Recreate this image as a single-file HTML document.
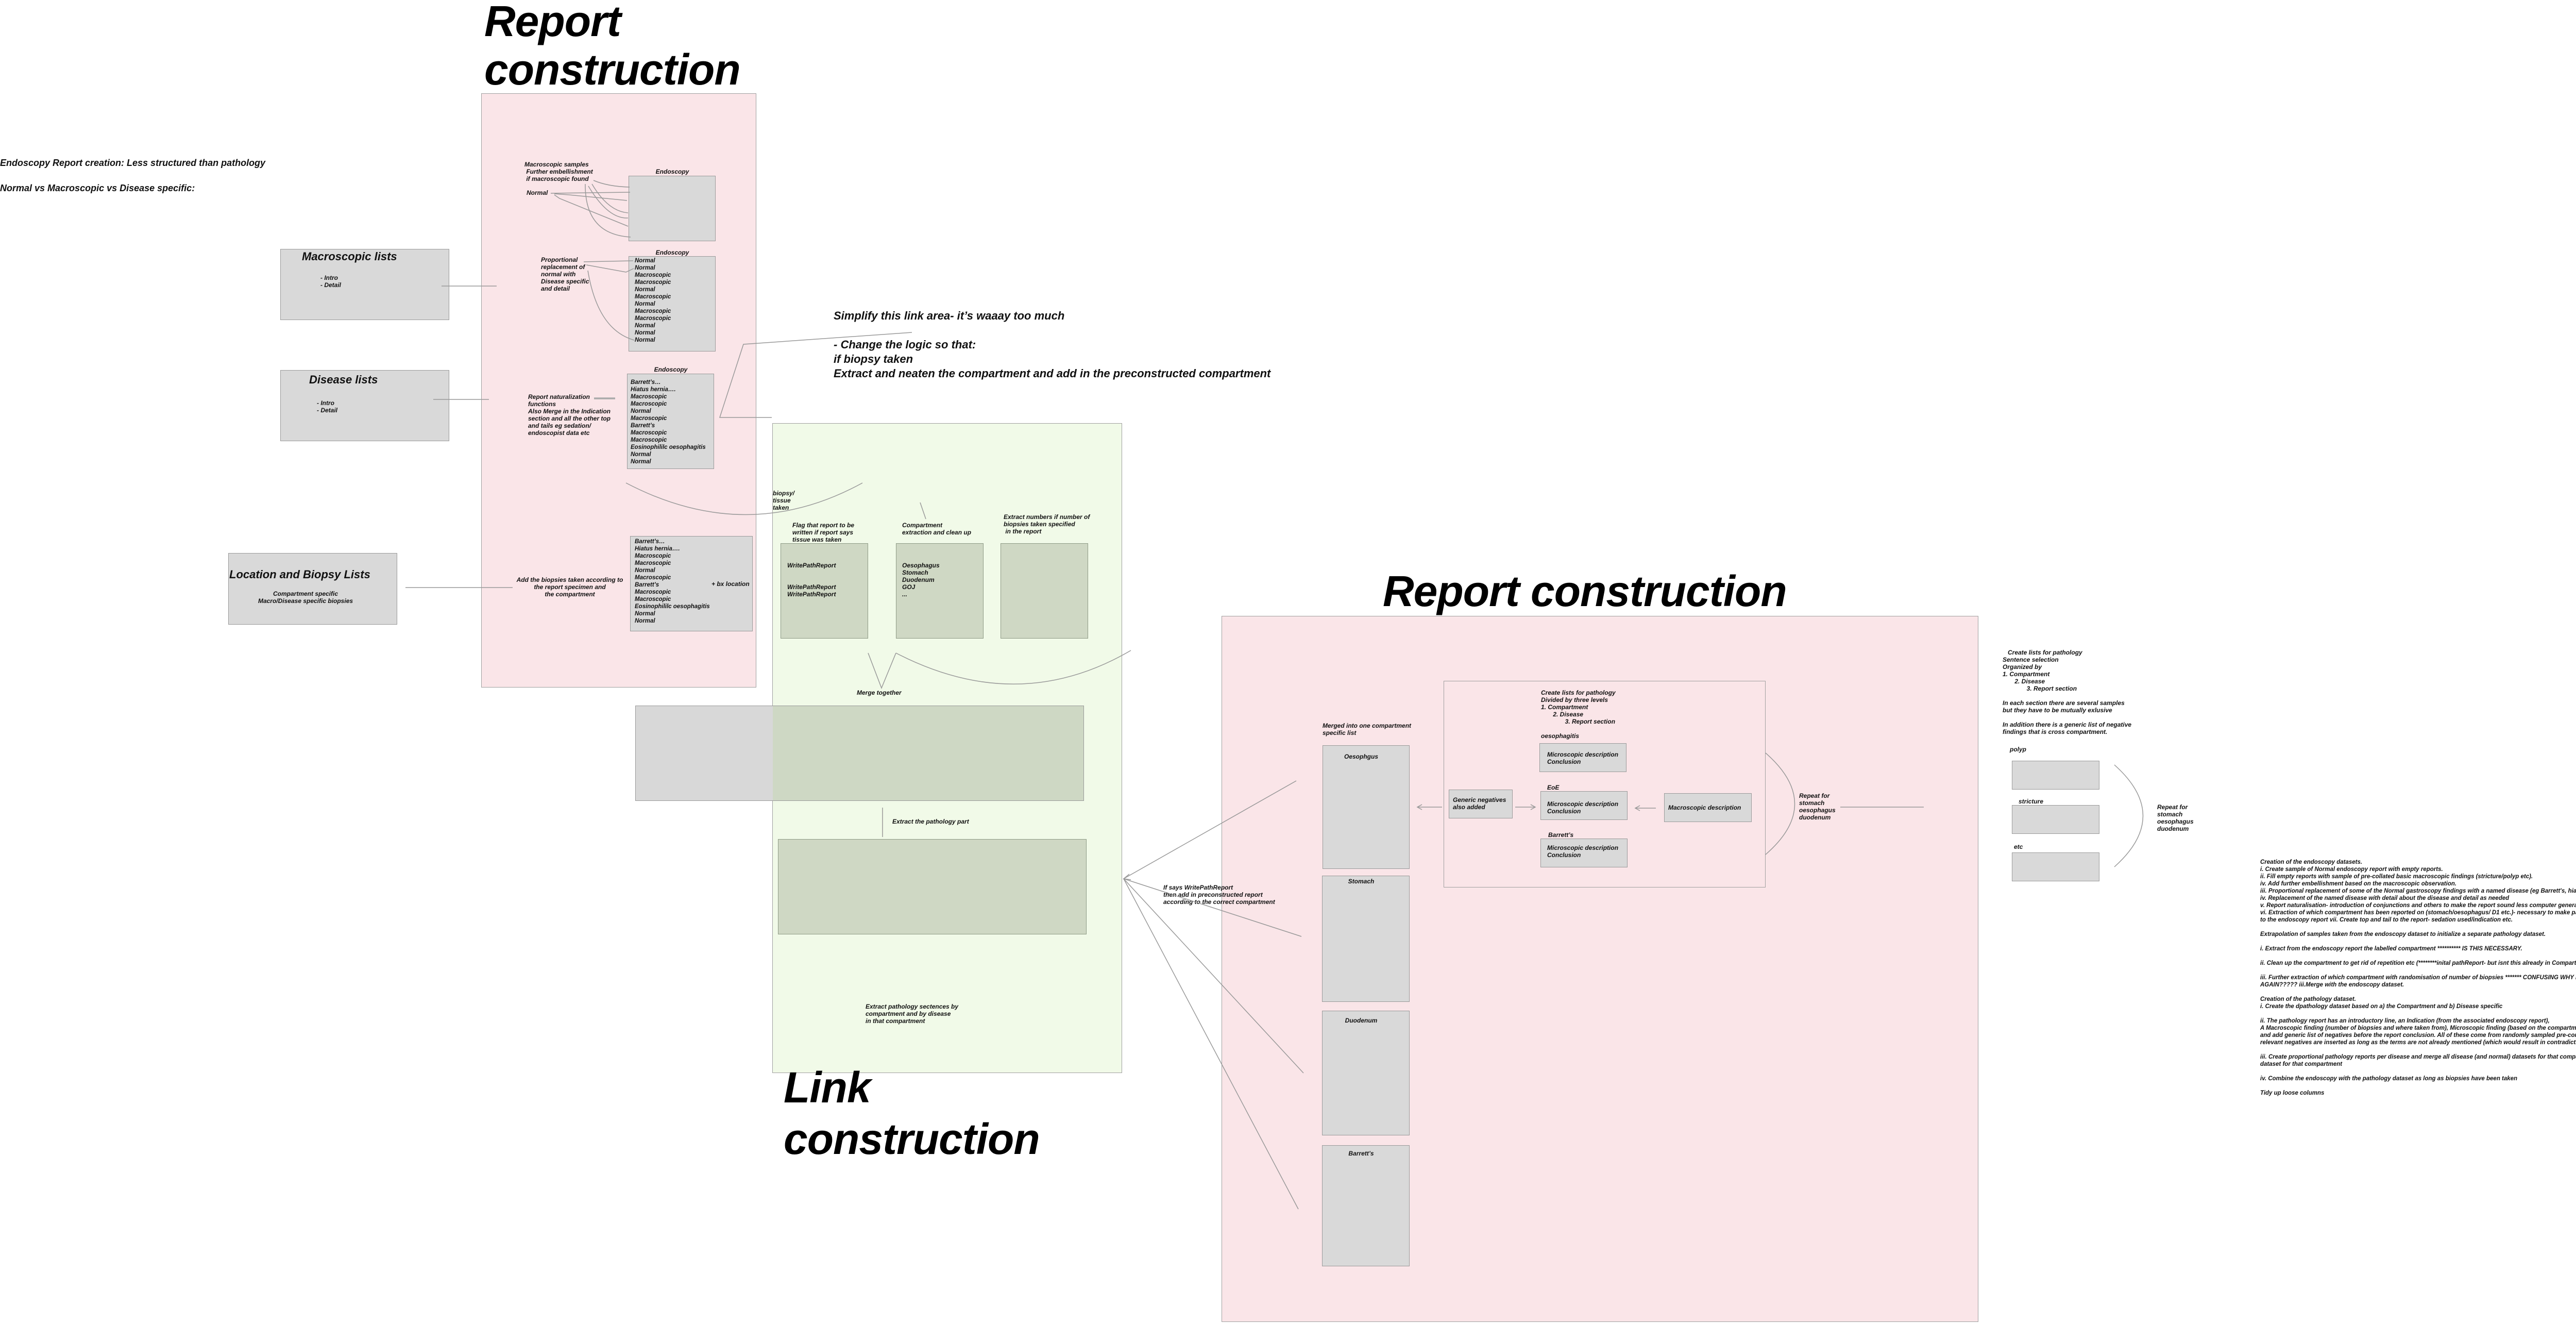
<!DOCTYPE html>
<html><head><meta charset="utf-8">
<style>
html,body{margin:0;padding:0;background:#fff;}
#c{position:relative;width:5125px;height:2567px;overflow:hidden;background:#fff;}
.t{position:absolute;font-family:"Liberation Sans",Arial,sans-serif;font-style:italic;font-weight:bold;font-size:12px;line-height:14px;white-space:pre;color:#111;}
.s{font-size:11.5px;}
.big{font-size:84px;line-height:94px;color:#000;letter-spacing:-1px;}
.h{font-size:22px;line-height:26px;}
.b{position:absolute;box-sizing:border-box;}
.g{background:#d9d9d9;border:1.5px solid #9a9a9a;}
.dg{background:#cfd8c4;border:1.5px solid #8e9a86;}
.c{text-align:center;}
</style></head><body><div id="c">

<!-- containers -->
<div class="b" style="left:934px;top:181px;width:534px;height:1153px;background:#fae5e8;border:1.5px solid #a0a0a0;"></div>
<div class="b" style="left:1499px;top:821px;width:679px;height:1261px;background:#f1fae8;border:1.5px solid #a0a0a0;"></div>
<div class="b" style="left:2371px;top:1195px;width:1469px;height:1370px;background:#fae5e8;border:1.5px solid #a0a0a0;"></div>
<div class="b" style="left:2802px;top:1321px;width:625px;height:401px;border:1.5px solid #a0a0a0;"></div>

<!-- titles -->
<div class="t big" style="left:940px;top:-6px;">Report
construction</div>
<div class="t big" style="left:2684px;top:1100px;">Report construction</div>
<div class="t big" style="left:1521px;top:2060px;line-height:100px;">Link
construction</div>

<!-- left notes -->
<div class="t" style="left:0;top:304px;font-size:18px;line-height:24px;">Endoscopy Report creation: Less structured than pathology</div>
<div class="t" style="left:0;top:353px;font-size:18px;line-height:24px;">Normal vs Macroscopic vs Disease specific:</div>

<div class="b g" style="left:544px;top:483px;width:328px;height:138px;"></div>
<div class="t h" style="left:586px;top:485px;">Macroscopic lists</div>
<div class="t" style="left:622px;top:532px;">- Intro
- Detail</div>

<div class="b g" style="left:544px;top:718px;width:328px;height:138px;"></div>
<div class="t h" style="left:600px;top:724px;">Disease lists</div>
<div class="t" style="left:615px;top:775px;">- Intro
- Detail</div>

<div class="b g" style="left:443px;top:1073px;width:328px;height:139px;"></div>
<div class="t h" style="left:445px;top:1102px;">Location and Biopsy Lists</div>
<div class="t c" style="left:443px;top:1145px;width:300px;">Compartment specific
Macro/Disease specific biopsies</div>

<!-- pink 1 contents -->
<div class="t" style="left:1018px;top:312px;">Macroscopic samples
 Further embellishment
 if macroscopic found</div>
<div class="t" style="left:1022px;top:367px;">Normal</div>
<div class="t c" style="left:1220px;top:326px;width:170px;">Endoscopy</div>
<div class="b g" style="left:1220px;top:341px;width:169px;height:127px;"></div>

<div class="t" style="left:1050px;top:497px;">Proportional
replacement of
normal with
Disease specific
and detail</div>
<div class="t c" style="left:1220px;top:483px;width:170px;">Endoscopy</div>
<div class="b g" style="left:1220px;top:497px;width:169px;height:185px;"></div>
<div class="t s" style="left:1232px;top:499px;">Normal
Normal
Macroscopic
Macroscopic
Normal
Macroscopic
Normal
Macroscopic
Macroscopic
Normal
Normal
Normal</div>

<div class="t" style="left:1025px;top:763px;">Report naturalization
functions
Also Merge in the Indication
section and all the other top
and tails eg sedation/
endoscopist data etc</div>
<div class="t c" style="left:1217px;top:710px;width:170px;">Endoscopy</div>
<div class="b g" style="left:1217px;top:725px;width:169px;height:185px;"></div>
<div class="t s" style="left:1224px;top:735px;">Barrett’s…
Hiatus hernia….
Macroscopic
Macroscopic
Normal
Macroscopic
Barrett’s
Macroscopic
Macroscopic
Eosinophililc oesophagitis
Normal
Normal</div>

<div class="t c" style="left:1000px;top:1118px;width:212px;">Add the biopsies taken according to
the report specimen and
the compartment</div>
<div class="b g" style="left:1223px;top:1040px;width:238px;height:185px;"></div>
<div class="t s" style="left:1232px;top:1044px;">Barrett’s…
Hiatus hernia….
Macroscopic
Macroscopic
Normal
Macroscopic
Barrett’s
Macroscopic
Macroscopic
Eosinophililc oesophagitis
Normal
Normal</div>
<div class="t" style="left:1381px;top:1126px;">+ bx location</div>

<!-- simplify note -->
<div class="t" style="left:1618px;top:599px;font-size:22px;line-height:28px;">Simplify this link area- it’s waaay too much

- Change the logic so that:
if biopsy taken
Extract and neaten the compartment and add in the preconstructed compartment</div>

<!-- green contents -->
<div class="t" style="left:1500px;top:950px;">biopsy/
tissue
taken</div>
<div class="t" style="left:1538px;top:1012px;">Flag that report to be
written if report says
tissue was taken</div>
<div class="t" style="left:1751px;top:1012px;">Compartment
extraction and clean up</div>
<div class="t" style="left:1948px;top:996px;">Extract numbers if number of
biopsies taken specified
 in the report</div>
<div class="b dg" style="left:1515px;top:1054px;width:170px;height:185px;"></div>
<div class="b dg" style="left:1739px;top:1054px;width:170px;height:185px;"></div>
<div class="b dg" style="left:1942px;top:1054px;width:170px;height:185px;"></div>
<div class="t" style="left:1528px;top:1090px;">WritePathReport


WritePathReport
WritePathReport</div>
<div class="t" style="left:1751px;top:1090px;">Oesophagus
Stomach
Duodenum
GOJ
...</div>
<div class="t" style="left:1663px;top:1337px;">Merge together</div>

<div class="b" style="left:1233px;top:1369px;width:267px;height:185px;background:#d8d8d8;"></div>
<div class="b" style="left:1500px;top:1369px;width:604px;height:185px;background:#ced8c4;"></div>
<div class="b" style="left:1233px;top:1369px;width:871px;height:185px;border:1.5px solid #999;"></div>
<div class="t" style="left:1732px;top:1587px;">Extract the pathology part</div>
<div class="b dg" style="left:1510px;top:1628px;width:599px;height:185px;"></div>
<div class="t" style="left:1680px;top:1946px;">Extract pathology sectences by
compartment and by disease
in that compartment</div>

<!-- pink 2 contents -->
<div class="t" style="left:2258px;top:1715px;">If says WritePathReport
then add in preconstructed report
according to the correct compartment</div>
<div class="t" style="left:2567px;top:1401px;">Merged into one compartment
specific list</div>
<div class="b g" style="left:2567px;top:1446px;width:169px;height:240px;"></div>
<div class="t c" style="left:2567px;top:1461px;width:150px;">Oesophgus</div>
<div class="b g" style="left:2566px;top:1699px;width:170px;height:245px;"></div>
<div class="t c" style="left:2566px;top:1703px;width:152px;">Stomach</div>
<div class="b g" style="left:2566px;top:1961px;width:170px;height:242px;"></div>
<div class="t c" style="left:2566px;top:1973px;width:152px;">Duodenum</div>
<div class="b g" style="left:2566px;top:2222px;width:170px;height:235px;"></div>
<div class="t c" style="left:2566px;top:2231px;width:152px;">Barrett’s</div>

<div class="t" style="left:2991px;top:1337px;">Create lists for pathology
Divided by three levels
1. Compartment
       2. Disease
              3. Report section</div>
<div class="t" style="left:2991px;top:1421px;">oesophagitis</div>
<div class="b g" style="left:2988px;top:1442px;width:169px;height:56px;"></div>
<div class="t" style="left:3003px;top:1457px;">Microscopic description
Conclusion</div>
<div class="t" style="left:3003px;top:1521px;">EoE</div>
<div class="b g" style="left:2990px;top:1535px;width:169px;height:56px;"></div>
<div class="t" style="left:3003px;top:1553px;">Microscopic description
Conclusion</div>
<div class="t" style="left:3005px;top:1613px;">Barrett’s</div>
<div class="b g" style="left:2990px;top:1627px;width:169px;height:56px;"></div>
<div class="t" style="left:3003px;top:1638px;">Microscopic description
Conclusion</div>
<div class="b g" style="left:2812px;top:1532px;width:124px;height:56px;"></div>
<div class="t" style="left:2820px;top:1545px;">Generic negatives
also added</div>
<div class="b g" style="left:3230px;top:1539px;width:170px;height:56px;"></div>
<div class="t" style="left:3238px;top:1560px;">Macroscopic description</div>
<div class="t" style="left:3492px;top:1537px;">Repeat for
stomach
oesophagus
duodenum</div>

<!-- right -->
<div class="t" style="left:3887px;top:1259px;">   Create lists for pathology
Sentence selection
Organized by
1. Compartment
       2. Disease
              3. Report section

In each section there are several samples
but they have to be mutually exlusive

In addition there is a generic list of negative
findings that is cross compartment.</div>
<div class="t" style="left:3901px;top:1447px;">polyp</div>
<div class="b g" style="left:3905px;top:1476px;width:170px;height:56px;"></div>
<div class="t" style="left:3918px;top:1548px;">stricture</div>
<div class="b g" style="left:3905px;top:1562px;width:170px;height:56px;"></div>
<div class="t" style="left:3909px;top:1636px;">etc</div>
<div class="b g" style="left:3905px;top:1654px;width:170px;height:56px;"></div>
<div class="t" style="left:4187px;top:1559px;">Repeat for
stomach
oesophagus
duodenum</div>

<div class="t s" style="left:4387px;top:1666px;">Creation of the endoscopy datasets.
i. Create sample of Normal endoscopy report with empty reports.
ii. Fill empty reports with sample of pre-collated basic macroscopic findings (stricture/polyp etc).
iv. Add further embellishment based on the macroscopic observation.
iii. Proportional replacement of some of the Normal gastroscopy findings with a named disease (eg Barrett's, hiatus hernia etc.)
iv. Replacement of the named disease with detail about the disease and detail as needed
v. Report naturalisation- introduction of conjunctions and others to make the report sound less computer generated
vi. Extraction of which compartment has been reported on (stomach/oesophagus/ D1 etc.)- necessary to make pathology relevant
to the endoscopy report vii. Create top and tail to the report- sedation used/indication etc.

Extrapolation of samples taken from the endoscopy dataset to initialize a separate pathology dataset.

i. Extract from the endoscopy report the labelled compartment ********** IS THIS NECESSARY.

ii. Clean up the compartment to get rid of repetition etc (********inital pathReport- but isnt this already in Compartment??)

iii. Further extraction of which compartment with randomisation of number of biopsies ******* CONFUSING WHY DO THIS
AGAIN????? iii.Merge with the endoscopy dataset.

Creation of the pathology dataset.
i. Create the dpathology dataset based on a) the Compartment and b) Disease specific

ii. The pathology report has an introductory line, an Indication (from the associated endoscopy report),
A Macroscopic finding (number of biopsies and where taken from), Microscopic finding (based on the compartment and disease)
and add generic list of negatives before the report conclusion. All of these come from randomly sampled pre-compiled lists. The
relevant negatives are inserted as long as the terms are not already mentioned (which would result in contradiction).

iii. Create proportional pathology reports per disease and merge all disease (and normal) datasets for that compartment into one
dataset for that compartment

iv. Combine the endoscopy with the pathology dataset as long as biopsies have been taken

Tidy up loose columns</div>

<!-- connectors -->
<svg width="5125" height="2567" style="position:absolute;left:0;top:0;" fill="none" stroke="#999" stroke-width="1.5">
<line x1="857" y1="555" x2="964" y2="555"/>
<line x1="841" y1="775" x2="949" y2="775"/>
<line x1="787" y1="1140" x2="995" y2="1140"/>
<path d="M1152 350 Q1180 362 1222 363"/>
<path d="M1069 375 L1223 373"/>
<path d="M1076 376 L1104 378 L1217 389"/>
<path d="M1076 378 L1086 385 L1219 439"/>
<path d="M1149 357 Q1180 410 1219 413"/>
<path d="M1142 361 Q1180 425 1219 423"/>
<path d="M1136 357 Q1135 455 1224 460"/>
<path d="M1133 508 L1229 506"/>
<path d="M1138 514 L1215 528 L1230 521"/>
<path d="M1141 525 Q1160 640 1231 660"/>
<line x1="1153" y1="773" x2="1194" y2="773" stroke-width="3.5" stroke="#aaa"/>
<polyline points="1498,810 1397,810 1443,668 1770,645"/>
<path d="M1215 937 Q1450 1060 1674 937"/>
<line x1="1786" y1="975" x2="1797" y2="1007"/>
<polyline points="1685,1267 1711,1335 1739,1267"/>
<path d="M1739 1267 Q1976 1390 2195 1262"/>
<line x1="1713" y1="1567" x2="1713" y2="1624"/>
<line x1="2181" y1="1705" x2="2516" y2="1515"/>
<line x1="2181" y1="1705" x2="2526" y2="1817"/>
<line x1="2181" y1="1705" x2="2530" y2="2082"/>
<line x1="2181" y1="1705" x2="2520" y2="2346"/>
<polyline points="2192,1696 2181,1705 2195,1707"/>
<line x1="2799" y1="1566" x2="2751" y2="1566"/>
<polyline points="2760,1561 2751,1566 2760,1571 Z"/>
<line x1="2941" y1="1566" x2="2980" y2="1566"/>
<polyline points="2971,1561 2980,1566 2971,1571 Z"/>
<line x1="3214" y1="1568" x2="3174" y2="1568"/>
<polyline points="3183,1563 3174,1568 3183,1573 Z"/>
<path d="M3427 1461 Q3540 1560 3427 1658"/>
<line x1="3572" y1="1566" x2="3734" y2="1566"/>
<path d="M4104 1484 Q4215 1583 4104 1682"/>
</svg>
</div></body></html>
